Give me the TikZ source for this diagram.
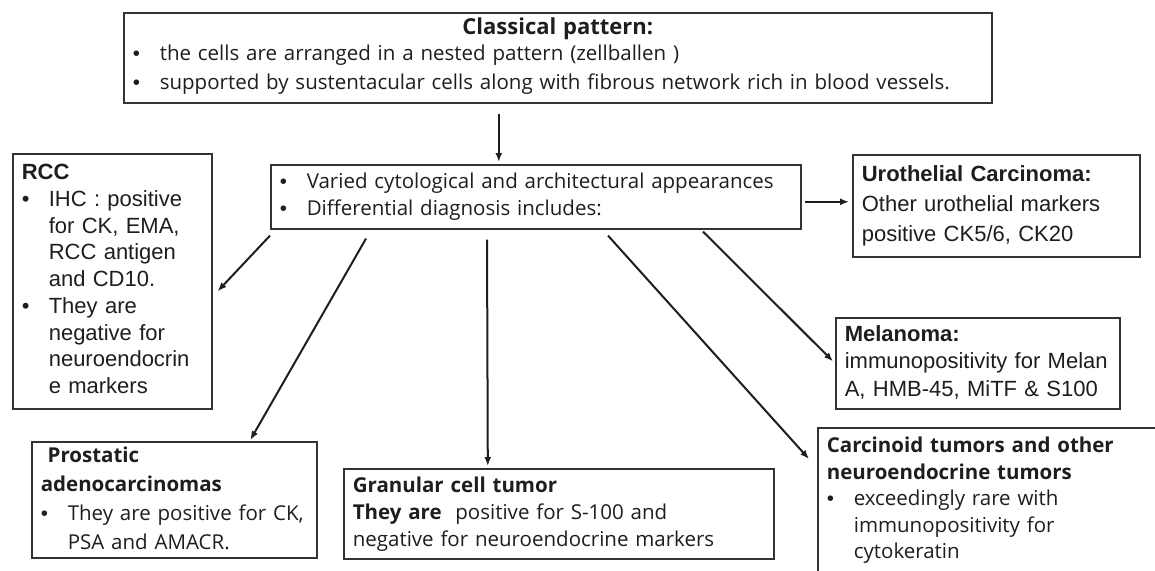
\documentclass[tikz,border=0pt]{standalone}
\usepackage{fontspec}
\setmainfont{Open Sans}
\newfontfamily\arialfont{Liberation Sans}
\usetikzlibrary{arrows.meta}

\definecolor{ink}{HTML}{1E1E1E}
\definecolor{edge}{HTML}{333333}

\newcommand{\bl}{\makebox[27pt][l]{{\arialfont\textbullet}}}
\newcommand{\ind}{\hspace*{27pt}}

\begin{document}
\begin{tikzpicture}[
    x=1pt, y=-1pt,
    >={Latex[length=9pt,width=7pt]},
    box/.style={
        draw=edge, line width=1.6pt, anchor=north west, align=left,
        inner xsep=9pt, inner ysep=0pt, text=ink
    },
    aptos/.style={font=\fontsize{20.5}{#1}\selectfont},
    arial/.style={font=\arialfont\fontsize{22}{#1}\selectfont},
    link/.style={->, line width=2pt, draw=ink}
]

\clip (0,0) rectangle (1155,570);
\fill[white] (0,0) rectangle (1155,570);

% -------------------------
% Boxes
% -------------------------

% Classical pattern (Top)
\node[box, aptos=29, text width=850pt, minimum height=90pt] (classic) at (123,12) {
    {\centering\fontsize{22}{30}\selectfont\textbf{Classical pattern:}\par}
    \noindent\begin{tabular}{@{}l@{}}
    \bl the cells are arranged in a nested pattern (zellballen ) \\
    \bl supported by sustentacular cells along with fibrous network rich in blood vessels.
    \end{tabular}
};

% Varied appearances (Center)
\node[box, aptos=27, text width=512pt, minimum height=64pt] (varied) at (270,164) {
    \begin{tabular}{@{}l@{}}
    \bl Varied cytological and architectural appearances \\
    \bl Differential diagnosis includes:
    \end{tabular}
};

% RCC (Left)
\node[box, arial=26.7, text width=181pt, minimum height=255pt] (rcc) at (12,153) {
    \begin{tabular}{@{}l@{}}
    \textbf{RCC} \\
    \bl IHC : positive \\
    \ind for CK, EMA, \\
    \ind RCC antigen \\
    \ind and CD10. \\
    \bl They are \\
    \ind negative for \\
    \ind neuroendocrin \\
    \ind e markers
    \end{tabular}
};

% Urothelial Carcinoma (Right)
\node[box, arial=30, text width=269pt, minimum height=102pt] (uro) at (852,154) {
    \begin{tabular}{@{}l@{}}
    \textbf{Urothelial Carcinoma:} \\
    Other urothelial markers \\
    positive CK5/6, CK20
    \end{tabular}
};

% Melanoma (Right, middle)
\node[box, arial=27.5, text width=266pt, minimum height=91pt] (melanoma) at (835,317) {
    \begin{tabular}{@{}l@{}}
    \textbf{Melanoma:} \\
    immunopositivity for Melan \\
    A, HMB-45, MiTF \& S100
    \end{tabular}
};

% Prostatic adenocarcinomas (Bottom left)
\node[box, aptos=29, text width=267pt, minimum height=116pt] (prostatic) at (31,441) {
    \begin{tabular}{@{}l@{}}
    \textbf{\ Prostatic} \\
    \textbf{adenocarcinomas} \\
    \bl They are positive for CK, \\
    \ind PSA and AMACR.
    \end{tabular}
};

% Granular cell tumor (Bottom center)
\node[box, aptos=27, text width=412pt, minimum height=90pt] (granular) at (343,468) {
    \begin{tabular}{@{}l@{}}
    \textbf{Granular cell tumor} \\
    \textbf{They are}\ \ positive for S-100 and \\
    negative for neuroendocrine markers
    \end{tabular}
};

% Carcinoid tumors (Bottom right, runs off the page)
\node[box, aptos=26.5, text width=335pt, minimum height=145pt] (carcinoid) at (817,427) {
    \begin{tabular}{@{}l@{}}
    \textbf{Carcinoid tumors and other} \\
    \textbf{neuroendocrine tumors} \\
    \bl exceedingly rare with \\
    \ind immunopositivity for \\
    \ind cytokeratin
    \end{tabular}
};

% -------------------------
% Connections
% -------------------------

\draw[link] ([shift={(-59,10)}]classic.south) -- ([shift={(-37,-2)}]varied.north);
\draw[link] ([shift={(3,5)}]varied.east) -- ([shift={(-3,-4)}]uro.west);
\draw[link] ([shift={(0,6)}]varied.south west) -- ([shift={(5,10)}]rcc.east);
\draw[link] ([shift={(96,9)}]varied.south west) -- ([shift={(76,-1)}]prostatic.north);
\draw[link] ([shift={(217,10)}]varied.south west) -- ([shift={(-71,-2)}]granular.north);
\draw[link] ([shift={(338,6)}]varied.south west) -- ([shift={(-8,32)}]carcinoid.north west);
\draw[link] ([shift={(433,2)}]varied.south west) -- ([shift={(-2,-2)}]melanoma.west);

\end{tikzpicture}
\end{document}
